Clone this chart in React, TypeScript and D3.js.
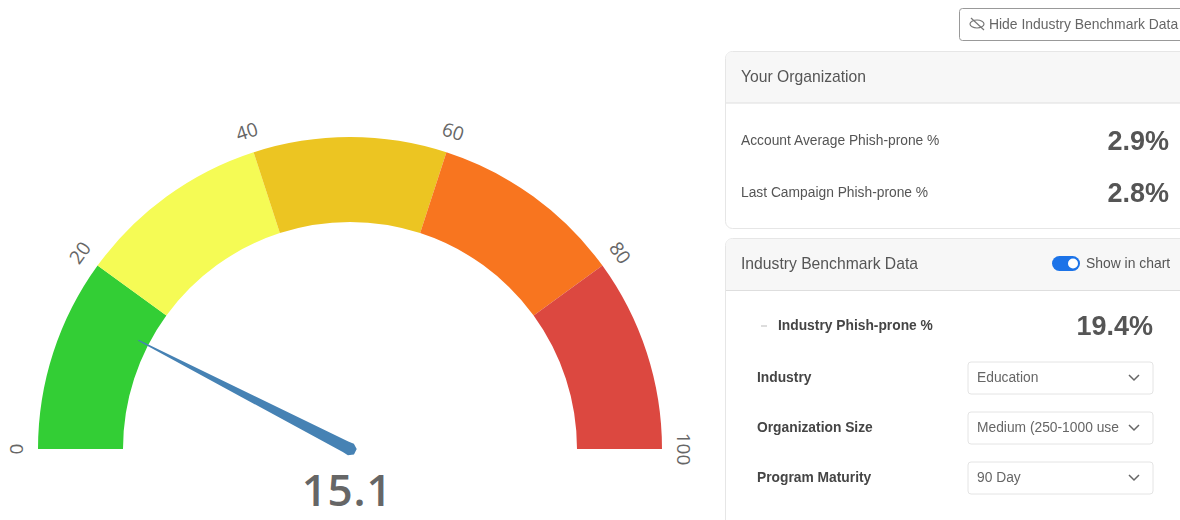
import React from "react";
import * as d3 from "d3";

const thresholds = [0, 20, 40, 60, 80, 100];
const bandColors = ["#33ce35", "#f5fb55", "#ecc522", "#f8751f", "#dc4840"];
const gaugeValue = 15.1;
const orgRows = [
  { label: "Account Average Phish-prone %", value: "2.9%" },
  { label: "Last Campaign Phish-prone %", value: "2.8%" },
];
const selectRows = [
  { label: "Industry", value: "Education" },
  { label: "Organization Size", value: "Medium (250-1000 use" },
  { label: "Program Maturity", value: "90 Day" },
];

const cx = 350, cy = 449, outerR = 312, innerR = 227, labelR = 334;
const angle = d3.scaleLinear().domain([0, 100]).range([-Math.PI / 2, Math.PI / 2]);
const arc = d3.arc();
const fontUI = "Arial, 'Liberation Sans', sans-serif";
const txt = "#555";

function Chevron({ x, y }: { x: number; y: number }) {
  return <path d={`M${x - 5},${y - 3} L${x},${y + 2} L${x + 5},${y - 3}`} fill="none" stroke="#666" strokeWidth={1.5} />;
}

export default function App() {
  const needleDeg = (angle(gaugeValue) * 180) / Math.PI;
  return (
    <svg width={1180} height={520} style={{ position: "absolute", left: 0, top: 0, display: "block", background: "#fff" }}>
      <defs>
        <filter id="soft" x="-2%" y="-2%" width="104%" height="104%">
          <feGaussianBlur stdDeviation="0.7" />
        </filter>
      </defs>
      <g transform={`translate(${cx},${cy})`}>
        {bandColors.map((c, i) => (
          <path
            key={c}
            fill={c}
            d={arc({
              innerRadius: innerR,
              outerRadius: outerR,
              startAngle: angle(thresholds[i]),
              endAngle: angle(thresholds[i + 1]),
            }) as string}
          />
        ))}
        {thresholds.map((t) => {
          const deg = (angle(t) * 180) / Math.PI;
          return (
            <text
              key={t}
              transform={`rotate(${deg}) translate(0,${-labelR})`}
              textAnchor="middle"
              dominantBaseline="central"
              fontFamily="'Open Sans', sans-serif"
              fontSize={19}
              fontWeight={500}
              fill="#666"
            >
              {t}
            </text>
          );
        })}
        <g transform={`rotate(${needleDeg})`}>
          <path
            d="M-6.5,1 L-6,-5 L-0.6,-238 L0.6,-238 L6,-5 L6.5,1 L3,6 L-3,6 Z"
            fill="#4682b4"
          />
        </g>
        <text x={-3} y={57} textAnchor="middle" fontFamily="'Open Sans', sans-serif" fontWeight={600} fontSize={44} letterSpacing={0.8} fill="#666">
          {gaugeValue}
        </text>
      </g>

      <g filter="url(#soft)" fontFamily={fontUI}>
        <rect x={959.5} y={8.5} width={240} height={32} rx={3} fill="#fff" stroke="#999" />
        <g stroke="#777" fill="none" strokeWidth={1.2}>
          <ellipse cx={977} cy={24} rx={7} ry={4} />
          <line x1={971} y1={18} x2={984} y2={30} />
        </g>
        <text x={989} y={29} fontSize={13.9} fill="#666">Hide Industry Benchmark Data</text>

        <rect x={725.5} y={51.5} width={480} height={177} rx={7} fill="#fff" stroke="#e6e6e6" />
        <path d="M726,103 V58 a6,6 0 0 1 6,-6 H1180 V103 Z" fill="#f7f7f7" />
        <line x1={726} x2={1180} y1={103} y2={103} stroke="#dedede" />
        <text x={741} y={82} fontSize={15.7} fill={txt}>Your Organization</text>
        {orgRows.map((r, i) => (
          <g key={r.label}>
            <text x={741} y={145 + i * 52} fontSize={13.8} fill={txt}>{r.label}</text>
            <text x={1169} y={150 + i * 52} textAnchor="end" fontSize={27} fontWeight={700} fill="#555">{r.value}</text>
          </g>
        ))}

        <rect x={725.5} y={238.5} width={480} height={300} rx={7} fill="#fff" stroke="#e6e6e6" />
        <path d="M726,290 V245 a6,6 0 0 1 6,-6 H1180 V290 Z" fill="#f7f7f7" />
        <line x1={726} x2={1180} y1={290.5} y2={290.5} stroke="#dedede" />
        <text x={741} y={269} fontSize={15.7} fill={txt}>Industry Benchmark Data</text>
        <rect x={1052} y={256} width={28} height={15} rx={7.5} fill="#1a73e8" />
        <circle cx={1073} cy={263.5} r={5} fill="#fff" />
        <text x={1086} y={268} fontSize={13.9} fill={txt}>Show in chart</text>

        <line x1={761} x2={767} y1={326} y2={326} stroke="#bbb" />
        <text x={778} y={330} fontSize={13.8} fontWeight={700} fill="#444">Industry Phish-prone %</text>
        <text x={1153} y={335} textAnchor="end" fontSize={27} fontWeight={700} fill="#555">19.4%</text>

        {selectRows.map((r, i) => {
          const y = 362 + i * 50;
          return (
            <g key={r.label}>
              <text x={757} y={y + 20} fontSize={13.8} fontWeight={700} fill="#444">{r.label}</text>
              <rect x={968} y={y} width={185} height={32} rx={3} fill="#fff" stroke="#e4e4e4" />
              <text x={977} y={y + 20} fontSize={13.8} fill="#666">{r.value}</text>
              <Chevron x={1134} y={y + 16} />
            </g>
          );
        })}
      </g>
    </svg>
  );
}
